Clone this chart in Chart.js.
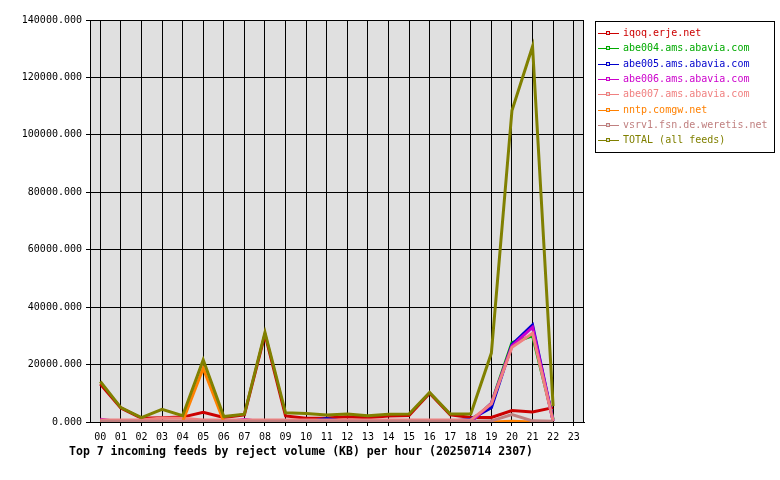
<!DOCTYPE html>
<html>
<head>
<meta charset="utf-8">
<script src="https://cdn.jsdelivr.net/npm/chart.js@4"></script>
<style>
  html, body { margin: 0; padding: 0; background: #fff; }
</style>
</head>
<body>
<canvas id="c" width="780" height="480"></canvas>
<script>
// --- data (KB rejected per hour) ---
const hours = ['00','01','02','03','04','05','06','07','08','09','10','11',
               '12','13','14','15','16','17','18','19','20','21','22','23'];
const feedNames = ['iqoq.erje.net', 'abe004.ams.abavia.com', 'abe005.ams.abavia.com',
                   'abe006.ams.abavia.com', 'abe007.ams.abavia.com', 'nntp.comgw.net',
                   'vsrv1.fsn.de.weretis.net', 'TOTAL (all feeds)'];
const feedColors = ['#cc0000', '#00aa00', '#0000cc', '#cc00cc', '#f08080', '#ff8000', '#c08080', '#808000'];

const iqoq   = [13200, 4900, 1300, 1500, 1700, 3400, 1600, 2500, 30500, 2100, 1300, 1400,
                1800, 1500, 2100, 2300, 10000, 2500, 1600, 1600, 4000, 3500, 5000, null];
const abe004 = [0, 0, 0, 0, 0, 0, 0, 0, 0, 0, 0, 0,
                0, 0, 0, 0, 0, 0, 0, 6500, 27600, 30000, 1000, null];
const abe005 = [0, 0, 0, 0, 0, 0, 0, 0, 0, 0, 0, 1200,
                0, 0, 0, 0, 0, 300, 1000, 5000, 27000, 33800, 300, null];
const abe006 = [1000, 0, 0, 0, 0, 0, 0, 900, 0, 0, 0, 0,
                0, 0, 0, 0, 0, 0, 0, 6500, 26500, 33000, 300, null];
const abe007 = [700, 700, 700, 1400, 1300, 700, 700, 700, 700, 700, 700, 700,
                700, 700, 700, 700, 700, 700, 700, 6300, 26000, 30900, 300, null];
const nntp   = [0, 0, 0, 0, 200, 18700, 200, 0, 0, 0, 0, 0,
                0, 0, 0, 0, 0, 0, 0, 0, 300, 0, 0, null];
const vsrv1  = [300, 300, 300, 300, 300, 300, 300, 300, 300, 300, 300, 300,
                300, 300, 300, 300, 300, 300, 300, 400, 2600, 400, 300, null];
const total  = [14100, 5000, 1500, 4400, 2200, 21600, 1900, 2700, 31200, 3200, 3000, 2400,
                2800, 2200, 2700, 2800, 10300, 2800, 2800, 24000, 108500, 130800, 5500, null];

const yMax = 140000;
const yStep = 20000;
const titleText = 'Top 7 incoming feeds by reject volume (KB) per hour (20250714 2307)';

const series = [iqoq, abe004, abe005, abe006, abe007, nntp, vsrv1, total];
const MONO = '"DejaVu Sans Mono", "Liberation Mono", monospace';

// grey plot background + frame, title and boxed legend
const decor = {
  id: 'decor',
  beforeDraw(chart) {
    const { ctx, chartArea: a } = chart;
    ctx.save();
    ctx.fillStyle = '#e0e0e0';
    ctx.fillRect(a.left, a.top, a.right - a.left, a.bottom - a.top);
    ctx.restore();
  },
  afterDraw(chart) {
    const { ctx, chartArea: a } = chart;
    ctx.save();
    ctx.strokeStyle = '#000';
    ctx.lineWidth = 1;
    ctx.strokeRect(Math.round(a.left) + 0.5, Math.round(a.top) + 0.5,
                   Math.round(a.right - a.left) - 1, Math.round(a.bottom - a.top));

    // title under the axis
    ctx.fillStyle = '#000';
    ctx.font = 'bold 11.5px ' + MONO;
    ctx.textAlign = 'center';
    ctx.textBaseline = 'middle';
    ctx.fillText(titleText, 301, 452);

    // legend box
    ctx.strokeRect(595.5, 21.5, 179, 131);
    ctx.font = '10px ' + MONO;
    ctx.textAlign = 'left';
    chart.data.datasets.forEach((ds, i) => {
      const y = Math.round(33 + i * 15.35) + 0.5;
      ctx.strokeStyle = ds.borderColor;
      ctx.beginPath();
      ctx.moveTo(598, y);
      ctx.lineTo(619, y);
      ctx.stroke();
      ctx.fillStyle = '#e0e0e0';
      ctx.fillRect(606.5, y - 2, 3, 3);
      ctx.strokeRect(606.5, y - 2, 3, 3);
      ctx.fillStyle = ds.borderColor;
      ctx.fillText(ds.label, 623, y);
    });
    ctx.restore();
  }
};

new Chart(document.getElementById('c'), {
  type: 'line',
  data: {
    labels: hours,
    datasets: series.map((vals, i) => ({
      label: feedNames[i],
      data: vals,
      borderColor: feedColors[i],
      backgroundColor: feedColors[i],
      borderWidth: 3,
      pointRadius: 0,
      tension: 0,
      fill: false,
      order: series.length - 1 - i   // TOTAL on top
    }))
  },
  options: {
    responsive: false,
    animation: false,
    layout: { padding: { top: 20, right: 196, bottom: 0, left: 0 } },
    plugins: {
      legend: { display: false },
      title: { display: false },
      tooltip: { enabled: false }
    },
    scales: {
      x: {
        type: 'category',
        offset: true,
        grid: { offset: false, color: '#000', lineWidth: 1, tickLength: 4, drawTicks: true },
        border: { display: true, color: '#000' },
        ticks: { color: '#000', font: { family: MONO, size: 10 }, maxRotation: 0, autoSkip: false, padding: 5 },
        afterFit(scale) { scale.height = 58; }
      },
      y: {
        min: 0,
        max: yMax,
        grid: { color: '#000', lineWidth: 1, tickLength: 4 },
        border: { display: true, color: '#000' },
        ticks: {
          stepSize: yStep,
          color: '#000',
          font: { family: MONO, size: 10 },
          padding: 4,
          callback: v => v.toFixed(3)
        },
        afterFit(scale) { scale.width = 90; }
      }
    }
  },
  plugins: [decor]
});
</script>
</body>
</html>
